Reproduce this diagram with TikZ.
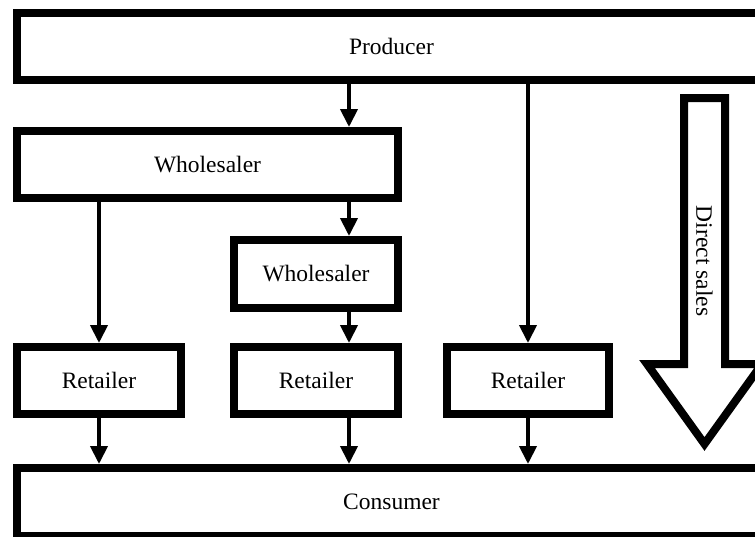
\documentclass[tikz,border=0pt]{standalone}
\usepackage{fontspec}
\setmainfont{Liberation Serif}
\usetikzlibrary{arrows.meta}
\begin{document}
\begin{tikzpicture}[x=1pt,y=-1pt,
  box/.style={draw=black,line width=8pt,fill=white,inner sep=0pt,font=\fontsize{23.5}{27}\selectfont},
  flow/.style={line width=4pt,-{Triangle[length=18pt,width=17pt]}}]
\useasboundingbox (0,0) rectangle (755,536);
\begin{scope}
\clip (0,0) rectangle (755,536);
\node[box,minimum width=749pt,minimum height=67.5pt] (prod) at (391.5,46.25) {Producer};
\node[box,minimum width=381pt,minimum height=67pt] (w1) at (207.5,164.5) {Wholesaler};
\node[box,minimum width=164pt,minimum height=68pt] (w2) at (316,274) {Wholesaler};
\node[box,minimum width=164pt,minimum height=67pt] (r1) at (99,380.5) {Retailer};
\node[box,minimum width=164pt,minimum height=67pt] (r2) at (316,380.5) {Retailer};
\node[box,minimum width=162pt,minimum height=67pt] (r3) at (528,380.5) {Retailer};
\node[box,minimum width=749pt,minimum height=68pt] (cons) at (391.5,502) {Consumer};
\coordinate (mx) at (349,0);
\draw[flow] (prod.south -| mx) -- (w1.north -| mx);
\draw[flow] (w1.south -| mx) -- (w2.north -| mx);
\draw[flow] (w1.south -| r1) -- (r1.north);
\draw[flow] (prod.south -| r3) -- (r3.north);
\draw[flow] (w2.south -| mx) -- (r2.north -| mx);
\draw[flow] (r1.south) -- (cons.north -| r1);
\draw[flow] (r2.south -| mx) -- (cons.north -| mx);
\draw[flow] (r3.south) -- (cons.north -| r3);
\draw[line width=8pt,line join=miter,fill=white] (684,98) -- (725,98) -- (725,364) -- (762,364) -- (704.5,444) -- (647,364) -- (684,364) -- cycle;
\node[rotate=-90,font=\fontsize{23.5}{27}\selectfont,inner sep=0pt] (ds) at (704.5,261) {Direct sales};
\end{scope}
\end{tikzpicture}
\end{document}
